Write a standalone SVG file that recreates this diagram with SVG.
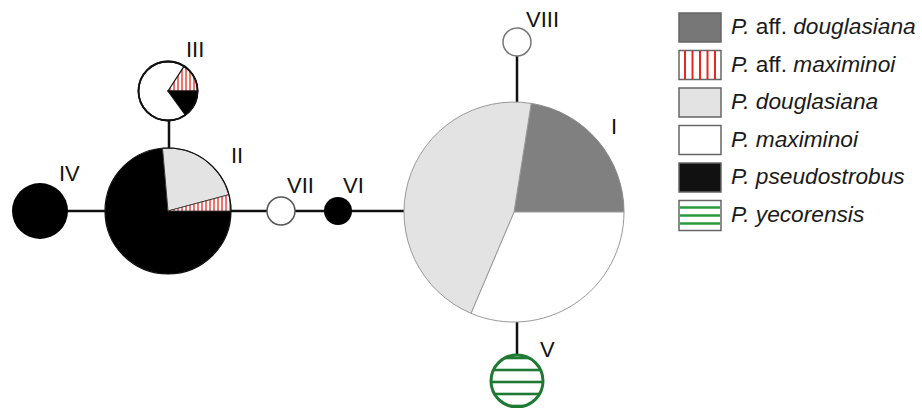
<svg xmlns="http://www.w3.org/2000/svg" width="922" height="408" viewBox="0 0 922 408">
<style>
  text { font-family: "Liberation Sans", Arial, sans-serif; font-size: 22px; fill: #111; }
  .it { font-style: italic; }
  #legend text { font-size: 22.7px; fill: #1a1a1a; }
  .edge { stroke: #111; stroke-width: 2.5; fill: none; }
  .lg { stroke: #666; stroke-width: 1.5; }
</style>
<defs>
  <pattern id="redS" patternUnits="userSpaceOnUse" x="0" y="0" width="4" height="10">
    <rect width="4" height="10" fill="#fff"/>
    <line x1="2" y1="0" x2="2" y2="10" stroke="#e8281e" stroke-width="1.3"/>
  </pattern>
  <pattern id="greenS" patternUnits="userSpaceOnUse" x="0" y="358" width="10" height="12">
    <rect width="10" height="12" fill="#fff"/>
    <line x1="0" y1="0" x2="10" y2="0" stroke="#1e7a32" stroke-width="2.6"/>
    <line x1="0" y1="12" x2="10" y2="12" stroke="#1e7a32" stroke-width="2.6"/>
  </pattern>
</defs>

<g id="connectors">
  <line class="edge" x1="66" y1="211" x2="106" y2="211"/>
  <line class="edge" x1="231" y1="211" x2="268" y2="211"/>
  <line class="edge" x1="295" y1="211" x2="325" y2="211"/>
  <line class="edge" x1="351" y1="211" x2="404" y2="211"/>
  <line class="edge" x1="169" y1="120" x2="169" y2="148"/>
  <line class="edge" x1="517" y1="56" x2="517" y2="102"/>
  <line class="edge" x1="517" y1="322" x2="517" y2="355"/>
</g>

<g id="node-I">
  <path d="M514,212 L531.2,103.4 A110,110 0 0 1 624,212 Z" fill="#808080" stroke="#8a8a8a" stroke-width="1"/>
  <path d="M514,212 L624,212 A110,110 0 0 1 471,313.3 Z" fill="#fff" stroke="#999" stroke-width="1"/>
  <path d="M514,212 L471,313.3 A110,110 0 0 1 531.2,103.4 Z" fill="#e3e3e3" stroke="#999" stroke-width="1"/>
  <text x="611" y="134">I</text>
</g>

<g id="node-II">
  <path d="M168,211 L231,211 A63,63 0 1 1 162.5,148.2 Z" fill="#000"/>
  <path d="M168,211 L162.5,148.2 A63,63 0 0 1 228.9,194.7 Z" fill="#e3e3e3" stroke="#333" stroke-width="1"/>
  <path d="M168,211 L228.9,194.7 A63,63 0 0 1 231,211 Z" fill="url(#redS)" stroke="#333" stroke-width="0.8"/>
  <circle cx="168" cy="211" r="63" fill="none" stroke="#111" stroke-width="1.2"/>
  <text x="231" y="163">II</text>
</g>

<g id="node-III">
  <circle cx="168" cy="91" r="29.5" fill="#fff" stroke="#111" stroke-width="1.8"/>
  <path d="M168,91 L184,66.3 A29.5,29.5 0 0 1 197.5,91 Z" fill="url(#redS)" stroke="#111" stroke-width="1.2"/>
  <path d="M168,91 L197.5,91 A29.5,29.5 0 0 1 185.3,114.9 Z" fill="#000" stroke="#111" stroke-width="1.2"/>
  <circle cx="168" cy="91" r="29.5" fill="none" stroke="#111" stroke-width="1.8"/>
  <text x="186" y="57">III</text>
</g>

<g id="node-IV">
  <circle cx="40" cy="211" r="28" fill="#000"/>
  <text x="59" y="181">IV</text>
</g>

<g id="node-V">
  <circle cx="517" cy="381" r="26" fill="url(#greenS)" stroke="#1e7a32" stroke-width="3"/>
  <text x="540" y="357">V</text>
</g>

<g id="node-VI">
  <circle cx="338" cy="211" r="14" fill="#000"/>
  <text x="343" y="193">VI</text>
</g>

<g id="node-VII">
  <circle cx="281" cy="211" r="14" fill="#fff" stroke="#555" stroke-width="1.5"/>
  <text x="287" y="193">VII</text>
</g>

<g id="node-VIII">
  <circle cx="517" cy="42" r="14" fill="#fff" stroke="#777" stroke-width="1.5"/>
  <text x="526" y="27">VIII</text>
</g>

<g id="legend">
  <rect class="lg" x="679" y="13" width="42" height="29" fill="#777"/>
  <text x="731" y="34"><tspan class="it">P.</tspan> aff. <tspan class="it">douglasiana</tspan></text>

  <rect class="lg" x="679" y="50.5" width="42" height="29" fill="#fff"/>
  <g stroke="#e8281e" stroke-width="2">
    <line x1="685" y1="51" x2="685" y2="79"/>
    <line x1="692.5" y1="51" x2="692.5" y2="79"/>
    <line x1="700" y1="51" x2="700" y2="79"/>
    <line x1="707.5" y1="51" x2="707.5" y2="79"/>
    <line x1="715" y1="51" x2="715" y2="79"/>
  </g>
  <text x="731" y="71.5"><tspan class="it">P.</tspan> aff. <tspan class="it">maximinoi</tspan></text>

  <rect class="lg" x="679" y="88" width="42" height="29" fill="#e3e3e3"/>
  <text x="731" y="109" class="it">P. douglasiana</text>

  <rect class="lg" x="679" y="125.5" width="42" height="29" fill="#fff"/>
  <text x="731" y="146.5" class="it">P. maximinoi</text>

  <rect class="lg" x="679" y="163" width="42" height="29" fill="#111"/>
  <text x="731" y="184" class="it">P. pseudostrobus</text>

  <rect class="lg" x="679" y="200.5" width="42" height="30" fill="#fff"/>
  <g stroke="#2a9a3c" stroke-width="2.5">
    <line x1="680" y1="207.5" x2="720" y2="207.5"/>
    <line x1="680" y1="215.5" x2="720" y2="215.5"/>
    <line x1="680" y1="223.5" x2="720" y2="223.5"/>
  </g>
  <text x="731" y="222" class="it">P. yecorensis</text>
</g>
</svg>
